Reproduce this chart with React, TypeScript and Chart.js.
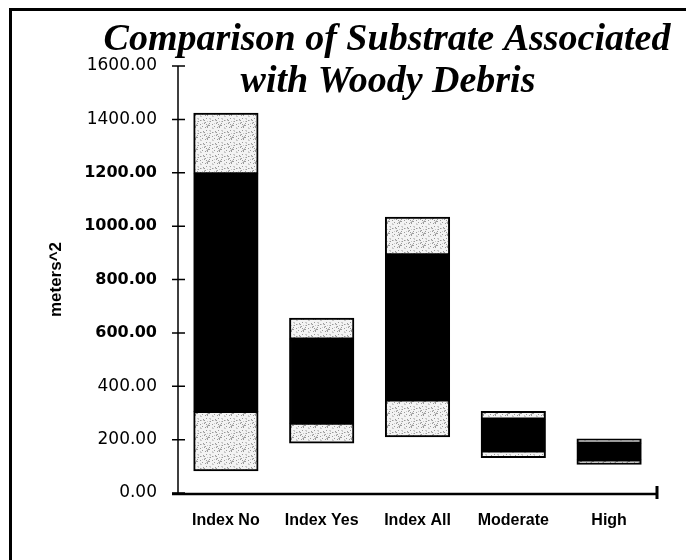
import React, { useEffect, useRef } from 'react';
import { Chart, registerables } from 'chart.js';

Chart.register(...registerables);

// ---- data ----
const categories = ['Index No', 'Index Yes', 'Index All', 'Moderate', 'High'];
const barBottom = [83, 187, 210, 133, 107];
const lowerGrayTop = [306, 262, 349, 158, 124];
const blackTop = [1196, 577, 892, 277, 187];
const barTop = [1423, 655, 1034, 306, 203];
const yTickValues = [0, 200, 400, 600, 800, 1000, 1200, 1400, 1600];
const boldTickValues = [600, 800, 1000, 1200];
const titleLines = ['Comparison of Substrate Associated', 'with Woody Debris'];
const yAxisTitle = 'meters^2';

function makeStipple(): CanvasPattern | string {
  const c = document.createElement('canvas');
  c.width = 12;
  c.height = 12;
  const g = c.getContext('2d');
  if (!g) return '#e4e4e4';
  g.fillStyle = '#f3f3f3';
  g.fillRect(0, 0, 12, 12);
  for (let i = 0; i < 144; i++) {
    const px = i % 12;
    const py = Math.floor(i / 12);
    const h = (px * 7 + py * 13 + px * py * 3) % 17;
    if (h === 0 || h === 5) {
      g.fillStyle = '#9a9a9a';
      g.fillRect(px, py, 1, 1);
    } else if (h === 9 || h === 12) {
      g.fillStyle = '#c8c8c8';
      g.fillRect(px, py, 1, 1);
    }
  }
  const p = g.createPattern(c, 'repeat');
  return p || '#e4e4e4';
}

const decorPlugin = {
  id: 'decor',
  afterDraw(chart: any) {
    const ctx = chart.ctx as CanvasRenderingContext2D;
    const xs = chart.scales.x;
    const ys = chart.scales.y;
    ctx.save();
    ctx.strokeStyle = '#000';
    // outer frame (top + left)
    ctx.lineWidth = 3;
    ctx.beginPath();
    ctx.moveTo(9, 9.5);
    ctx.lineTo(chart.width, 9.5);
    ctx.moveTo(10.5, 8);
    ctx.lineTo(10.5, chart.height);
    ctx.stroke();

    // y axis with crossing ticks
    const ax = xs.left;
    const y0 = ys.getPixelForValue(0);
    const yTop = ys.getPixelForValue(yTickValues[yTickValues.length - 1]);
    ctx.lineWidth = 1.5;
    ctx.beginPath();
    ctx.moveTo(ax, yTop);
    ctx.lineTo(ax, y0);
    yTickValues.forEach((v) => {
      const py = ys.getPixelForValue(v);
      ctx.moveTo(ax - 6, py);
      ctx.lineTo(ax + 7, py);
    });
    ctx.stroke();

    // x axis
    ctx.lineWidth = 2.5;
    ctx.beginPath();
    ctx.moveTo(ax - 6, y0 + 1);
    ctx.lineTo(xs.right, y0 + 1);
    ctx.stroke();
    ctx.lineWidth = 3;
    ctx.beginPath();
    ctx.moveTo(xs.right, y0 - 7);
    ctx.lineTo(xs.right, y0 + 6);
    ctx.stroke();

    // title
    ctx.fillStyle = '#000';
    ctx.font = 'bold italic 38px "Liberation Serif"';
    ctx.textAlign = 'center';
    ctx.textBaseline = 'alphabetic';
    ctx.fillText(titleLines[0], 387, 50);
    ctx.fillText(titleLines[1], 388, 92);
    ctx.restore();
  },
};

export default function App() {
  const ref = useRef<HTMLCanvasElement>(null);

  useEffect(() => {
    document.body.style.margin = '0';
    const canvas = ref.current;
    if (!canvas) return;
    const stipple = makeStipple();
    const seg = (lo: number[], hi: number[]) => lo.map((v, i) => [v, hi[i]]);
    const common = {
      borderColor: '#000',
      borderWidth: 2,
      borderSkipped: false as const,
      barPercentage: 0.672,
      categoryPercentage: 1,
      grouped: false,
      inflateAmount: 0.4,
    };
    const chart = new Chart(canvas, {
      type: 'bar',
      data: {
        labels: categories,
        datasets: [
          { label: 'lower', data: seg(barBottom, lowerGrayTop) as any, backgroundColor: stipple as any, ...common },
          { label: 'middle', data: seg(lowerGrayTop, blackTop) as any, backgroundColor: '#000', ...common },
          { label: 'upper', data: seg(blackTop, barTop) as any, backgroundColor: stipple as any, ...common },
        ],
      },
      options: {
        responsive: false,
        animation: false,
        layout: { padding: { top: 66, right: 29, bottom: 0, left: 0 } },
        plugins: {
          legend: { display: false },
          tooltip: { enabled: false },
          title: { display: false },
        },
        scales: {
          x: {
            grid: { display: false, drawTicks: false },
            border: { display: false },
            ticks: {
              color: '#000',
              padding: 18,
              maxRotation: 0,
              font: { family: '"Liberation Sans", Arial, sans-serif', size: 16, weight: 'bold' },
            },
            afterFit: (s: any) => {
              s.height = 67;
            },
          } as any,
          y: {
            min: 0,
            max: 1600,
            grid: { display: false, drawTicks: false },
            border: { display: false },
            afterBuildTicks: (s: any) => {
              s.ticks = yTickValues.map((v) => ({ value: v }));
            },
            ticks: {
              color: '#000',
              padding: 21,
              autoSkip: false,
              callback: (v: any) => Number(v).toFixed(2),
              font: (ctx: any) => {
                const b = ctx.tick && boldTickValues.includes(ctx.tick.value);
                return { family: '"DejaVu Sans", sans-serif', size: b ? 16 : 17, weight: b ? 'bold' : 'normal' };
              },
            },
            title: {
              display: true,
              text: yAxisTitle,
              color: '#000',
              padding: { top: 46, bottom: 0 },
              font: { family: '"Liberation Sans", Arial, sans-serif', size: 17, weight: 'bold' },
            },
            afterFit: (s: any) => {
              s.width = 178;
            },
          } as any,
        },
      },
      plugins: [decorPlugin],
    });
    return () => chart.destroy();
  }, []);

  return (
    <div style={{ width: 686, height: 560, background: '#fff' }}>
      <canvas ref={ref} width={686} height={560} style={{ display: 'block' }} />
    </div>
  );
}
